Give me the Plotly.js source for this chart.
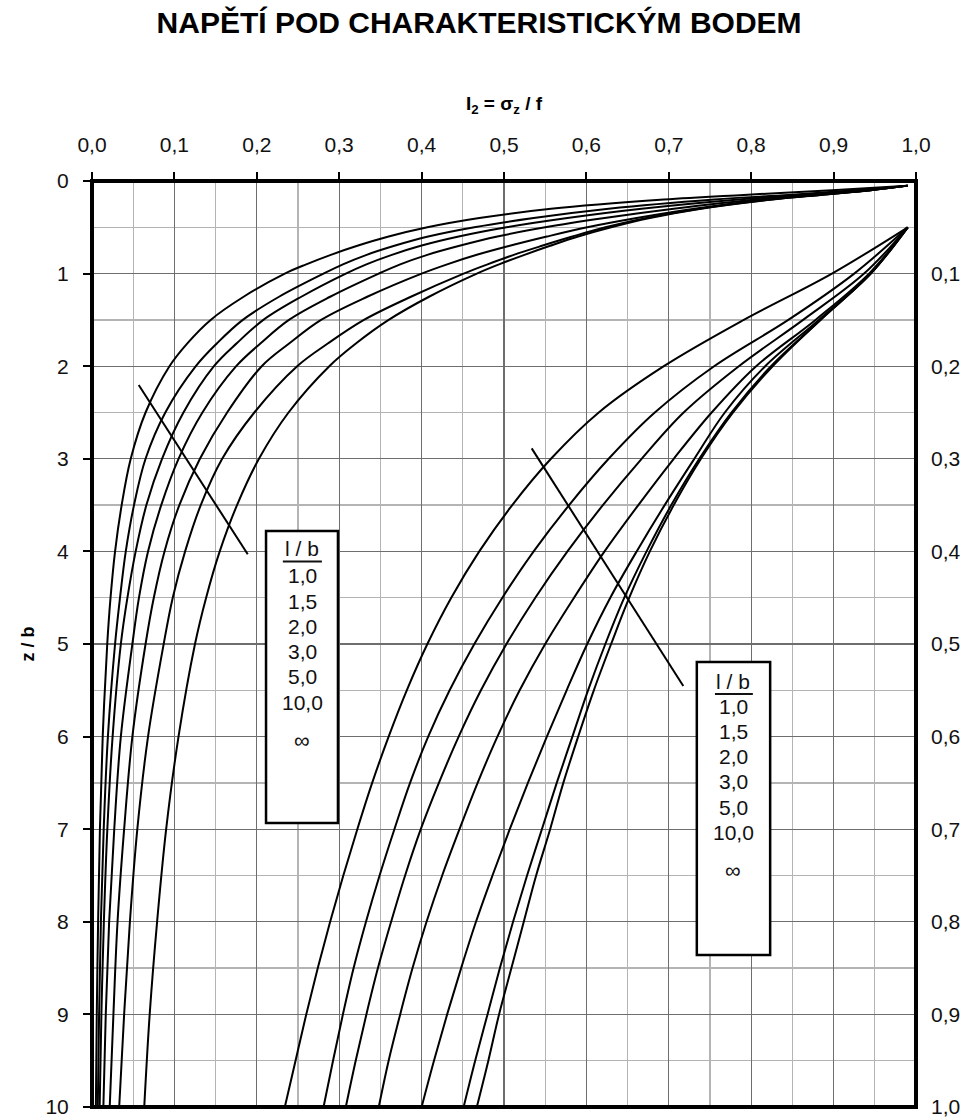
<!DOCTYPE html>
<html>
<head>
<meta charset="utf-8">
<script src="https://cdn.plot.ly/plotly-3.0.1.min.js"></script>
<style>
  html, body { margin: 0; padding: 0; background: #ffffff; }
  #chart { width: 964px; height: 1120px; }
</style>
</head>
<body>
<div id="chart"></div>
<script>
// ---- categories (l / b ratios) ----
const ratioLabels = ["1,0", "1,5", "2,0", "3,0", "5,0", "10,0", "\u221E"];

// ---- left family: depth z/b on the left axis (0 - 10) ----
const depthLeft = [0.05, 0.1, 0.15, 0.2, 0.3, 0.4, 0.5, 0.6, 0.7, 0.8, 0.9, 1.0,
                   1.25, 1.5, 1.75, 2, 2.5, 3, 3.5, 4, 4.5, 5, 6, 7, 8, 9, 10];
const left_1_0  = [0.99, 0.898, 0.791, 0.694, 0.557, 0.470, 0.407, 0.360, 0.322, 0.289, 0.260, 0.234,
                   0.184, 0.144, 0.116, 0.094, 0.065, 0.047, 0.036, 0.028, 0.0225, 0.0185, 0.013, 0.0096, 0.0074, 0.0058, 0.0047];
const left_1_5  = [0.99, 0.925, 0.845, 0.755, 0.627, 0.536, 0.464, 0.408, 0.367, 0.3325, 0.3045, 0.281,
                   0.227, 0.183, 0.152, 0.126, 0.089, 0.065, 0.051, 0.041, 0.034, 0.028, 0.0193, 0.0142, 0.0108, 0.0086, 0.0070];
const left_2_0  = [0.99, 0.937, 0.863, 0.785, 0.667, 0.577, 0.503, 0.445, 0.399, 0.363, 0.333, 0.308,
                   0.254, 0.208, 0.176, 0.148, 0.111, 0.085, 0.066, 0.053, 0.043, 0.035, 0.025, 0.0186, 0.0144, 0.0114, 0.0093];
const left_3_0  = [0.99, 0.943, 0.878, 0.806, 0.706, 0.622, 0.550, 0.492, 0.446, 0.406, 0.374, 0.348,
                   0.289, 0.239, 0.205, 0.175, 0.134, 0.105, 0.084, 0.068, 0.057, 0.049, 0.035, 0.027, 0.0208, 0.0167, 0.0138];
const left_5_0  = [0.99, 0.945, 0.882, 0.817, 0.731, 0.661, 0.601, 0.552, 0.507, 0.466, 0.431, 0.400,
                   0.334, 0.278, 0.240, 0.206, 0.164, 0.131, 0.106, 0.088, 0.075, 0.065, 0.049, 0.039, 0.031, 0.026, 0.0215];
const left_10_0 = [0.99, 0.945, 0.884, 0.824, 0.737, 0.673, 0.623, 0.583, 0.546, 0.511, 0.480, 0.451,
                   0.387, 0.330, 0.287, 0.249, 0.197, 0.158, 0.132, 0.113, 0.098, 0.087, 0.068, 0.055, 0.046, 0.039, 0.033];
const left_inf  = [0.989, 0.945, 0.884, 0.826, 0.739, 0.677, 0.630, 0.590, 0.556, 0.524, 0.494, 0.467,
                   0.409, 0.360, 0.321, 0.288, 0.2385, 0.2026, 0.176, 0.155, 0.1385, 0.125, 0.105, 0.090, 0.079, 0.070, 0.0634];

// ---- right family: depth z/b on the right axis (0 - 1,0) ----
const depthRight = [0.05, 0.1, 0.15, 0.2, 0.25, 0.3, 0.35, 0.4, 0.45, 0.5,
                    0.55, 0.6, 0.65, 0.7, 0.75, 0.8, 0.85, 0.9, 0.95, 1.0];
const right_1_0  = [0.99, 0.898, 0.791, 0.694, 0.615, 0.557, 0.510, 0.470, 0.436, 0.407,
                    0.382, 0.360, 0.340, 0.322, 0.305, 0.289, 0.274, 0.260, 0.247, 0.234];
const right_1_5  = [0.99, 0.925, 0.845, 0.755, 0.683, 0.627, 0.579, 0.536, 0.498, 0.464,
                    0.434, 0.408, 0.386, 0.367, 0.349, 0.3325, 0.3175, 0.3045, 0.2925, 0.281];
const right_2_0  = [0.99, 0.937, 0.863, 0.785, 0.718, 0.667, 0.620, 0.577, 0.538, 0.503,
                    0.472, 0.445, 0.421, 0.399, 0.380, 0.363, 0.347, 0.333, 0.320, 0.308];
const right_3_0  = [0.99, 0.943, 0.878, 0.806, 0.752, 0.706, 0.663, 0.622, 0.585, 0.550,
                    0.519, 0.492, 0.468, 0.446, 0.425, 0.406, 0.389, 0.374, 0.360, 0.348];
const right_5_0  = [0.99, 0.945, 0.882, 0.817, 0.768, 0.731, 0.695, 0.661, 0.629, 0.601,
                    0.576, 0.552, 0.529, 0.507, 0.486, 0.466, 0.448, 0.431, 0.415, 0.400];
const right_10_0 = [0.99, 0.945, 0.884, 0.824, 0.776, 0.737, 0.703, 0.673, 0.646, 0.623,
                    0.602, 0.583, 0.564, 0.546, 0.528, 0.511, 0.495, 0.480, 0.465, 0.451];
const right_inf  = [0.989, 0.945, 0.884, 0.826, 0.778, 0.739, 0.706, 0.677, 0.652, 0.630,
                    0.609, 0.590, 0.572, 0.556, 0.539, 0.524, 0.509, 0.494, 0.481, 0.467];

// ---- pointer lines across each family (x = sigma_z/f, z = depth) ----
const pointerLeftX  = [0.0567, 0.189];
const pointerLeftZ  = [2.203, 4.031];
const pointerRightX = [0.5336, 0.7176];
const pointerRightZ = [0.2887, 0.5454];

// ---- tick labels ----
const xTickVals = [0, 0.1, 0.2, 0.3, 0.4, 0.5, 0.6, 0.7, 0.8, 0.9, 1.0];
const yLeftTickVals = [0, 1, 2, 3, 4, 5, 6, 7, 8, 9, 10];
const yRightTickVals = [0.1, 0.2, 0.3, 0.4, 0.5, 0.6, 0.7, 0.8, 0.9, 1.0];

const FONT = "Liberation Sans, Arial, Helvetica, sans-serif";
const INK = "#111111";

const leftSeries = [left_1_0, left_1_5, left_2_0, left_3_0, left_5_0, left_10_0, left_inf];
const rightSeries = [right_1_0, right_1_5, right_2_0, right_3_0, right_5_0, right_10_0, right_inf];

const traces = [];
leftSeries.forEach((vals, i) => {
  traces.push({
    type: "scatter", mode: "lines", x: vals, y: depthLeft, yaxis: "y",
    name: "l/b " + ratioLabels[i] + " (z/b 0-10)",
    line: { color: "#000000", width: 2, shape: "spline", smoothing: 1 },
    hoverinfo: "skip", showlegend: false
  });
});
rightSeries.forEach((vals, i) => {
  traces.push({
    type: "scatter", mode: "lines", x: vals, y: depthRight, yaxis: "y2",
    name: "l/b " + ratioLabels[i] + " (z/b 0-1)",
    line: { color: "#000000", width: 2, shape: "spline", smoothing: 1 },
    hoverinfo: "skip", showlegend: false
  });
});
traces.push({
  type: "scatter", mode: "lines", x: pointerLeftX, y: pointerLeftZ, yaxis: "y",
  line: { color: "#000000", width: 2 }, hoverinfo: "skip", showlegend: false
});
traces.push({
  type: "scatter", mode: "lines", x: pointerRightX, y: pointerRightZ, yaxis: "y2",
  line: { color: "#000000", width: 2 }, hoverinfo: "skip", showlegend: false
});

// legend boxes (text lines inside)
const boxLines = ["l / b"].concat(ratioLabels);
const leftBoxX = 0.2549, leftBoxY = [3.974, 4.255, 4.536, 4.816, 5.086, 5.356, 5.637, 6.037];
const rightBoxX = 0.7785, rightBoxY = [5.407, 5.677, 5.947, 6.217, 6.487, 6.763, 7.033, 7.448];

const annotations = [];
boxLines.forEach((t, i) => {
  const isInf = (t === "\u221E");
  annotations.push({
    xref: "x", yref: "y", x: leftBoxX, y: leftBoxY[i], text: t, showarrow: false,
    xanchor: "center", yanchor: "middle",
    font: { family: FONT, size: isInf ? 22 : 21, color: INK }
  });
  annotations.push({
    xref: "x", yref: "y", x: rightBoxX, y: rightBoxY[i], text: t, showarrow: false,
    xanchor: "center", yanchor: "middle",
    font: { family: FONT, size: isInf ? 22 : 21, color: INK }
  });
});

const shapes = [
  // legend boxes
  { type: "rect", xref: "x", yref: "y", x0: 0.2112, x1: 0.2985, y0: 3.78, y1: 6.933,
    line: { color: "#000", width: 2.5 }, fillcolor: "#ffffff", layer: "above" },
  { type: "rect", xref: "x", yref: "y", x0: 0.734, x1: 0.823, y0: 5.194, y1: 8.359,
    line: { color: "#000", width: 2.5 }, fillcolor: "#ffffff", layer: "above" },
  // underline of "l / b"
  { type: "line", xref: "x", yref: "y", x0: 0.2316, x1: 0.279, y0: 4.11, y1: 4.11,
    line: { color: INK, width: 2 }, layer: "above" },
  { type: "line", xref: "x", yref: "y", x0: 0.756, x1: 0.802, y0: 5.54, y1: 5.54,
    line: { color: INK, width: 2 }, layer: "above" },
  // heavy frame
  { type: "rect", xref: "paper", yref: "paper", x0: 0, x1: 1, y0: 0, y1: 1,
    line: { color: "#000", width: 4 }, fillcolor: "rgba(0,0,0,0)", layer: "above" }
];

const layout = {
  width: 964, height: 1120,
  margin: { l: 92, r: 48, t: 181, b: 13, pad: 0 },
  paper_bgcolor: "#ffffff", plot_bgcolor: "#ffffff",
  separators: ",.",
  font: { family: FONT, color: INK, size: 20 },
  showlegend: false,
  title: {
    text: "<b>NAPĚTÍ POD CHARAKTERISTICKÝM BODEM</b>",
    xref: "container", yref: "container", x: 0.497, y: 0.980,
    xanchor: "center", yanchor: "middle",
    font: { family: FONT, size: 30, color: "#000" }
  },
  xaxis: {
    side: "top", range: [0, 1], tickvals: xTickVals, tickformat: ".1f",
    ticks: "outside", ticklen: 8, tickwidth: 2, tickcolor: "#000",
    ticklabelstandoff: 12,
    tickfont: { family: FONT, size: 21, color: INK },
    showgrid: true, gridcolor: "#6e6e6e", gridwidth: 1.3,
    minor: { dtick: 0.05, showgrid: true, gridcolor: "#b4b4b4", gridwidth: 1.3, ticks: "" },
    zeroline: false, showline: false, fixedrange: true,
    title: { text: "<b>I<sub>2</sub> = σ<sub>z</sub> / f</b>", standoff: 16,
             font: { family: FONT, size: 19, color: "#000" } }
  },
  yaxis: {
    range: [10, 0], tickvals: yLeftTickVals,
    ticks: "outside", ticklen: 8, tickwidth: 2, tickcolor: "#000",
    ticklabelstandoff: 10,
    tickfont: { family: FONT, size: 21, color: INK },
    showgrid: true, gridcolor: "#6e6e6e", gridwidth: 1.3,
    minor: { dtick: 0.5, showgrid: true, gridcolor: "#b4b4b4", gridwidth: 1.3, ticks: "" },
    zeroline: false, showline: false, fixedrange: true,
    title: { text: "<b>z / b</b>", standoff: 6,
             font: { family: FONT, size: 18, color: "#000" } }
  },
  yaxis2: {
    overlaying: "y", side: "right", range: [1.0, 0], tickvals: yRightTickVals, tickformat: ".1f",
    ticks: "", ticklabelstandoff: 14,
    tickfont: { family: FONT, size: 21, color: INK },
    showgrid: false, zeroline: false, showline: false, fixedrange: true
  },
  shapes: shapes,
  annotations: annotations
};

Plotly.newPlot("chart", traces, layout, { displayModeBar: false, staticPlot: true });
</script>
</body>
</html>
